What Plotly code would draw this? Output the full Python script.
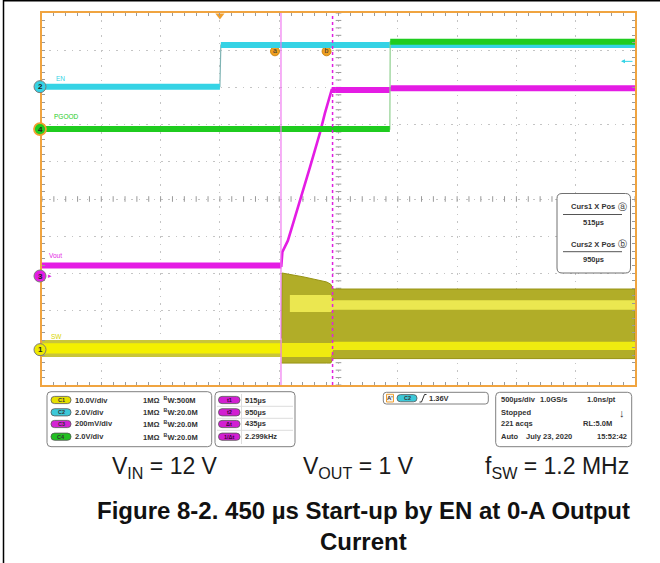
import numpy as np
import plotly.graph_objects as go

# ---------------- data ----------------
time_range_us = [-1500, 3500]          # 500 us/div, 10 divisions, trigger 3 div from left
div_range = [0, 10]

ch_names = ["SW", "EN", "Vout", "PGOOD"]
ch_numbers = ["1", "2", "3", "4"]
ch_scale = [10.0, 2.0, 0.2, 2.0]        # V/div
ch_offset = [0.95, 8.02, 2.93, 6.88]    # ground marker position (div from bottom)
ch_colors = ["#eeea00", "#35d3e5", "#e41ce4", "#1fcc1f"]

en_t = [-1500, 0, 8, 3500]
en_v = [0.0, 0.0, 2.24, 2.24]

pg_t = [-1500, 1433, 1436, 3500]
pg_v = [0.0, 0.0, 4.70, 4.70]

vout_t = [-1500, 518, 527, 573, 618, 675, 759, 843, 885, 942, 978, 1433, 1440, 3500]
vout_v = [0.056, 0.056, 0.13, 0.19, 0.284, 0.40, 0.584, 0.768, 0.874, 1.0, 1.0, 1.0, 1.01, 1.01]

# SW idle (before start-up): noise fringe and bright core
sw_idle_t = [-1500, 520]
sw_idle_fringe_top = [2.6, 2.6]
sw_idle_fringe_bot = [-2.0, -2.0]
sw_idle_core_top = [1.7, 1.7]
sw_idle_core_bot = [-1.0, -1.0]

# SW switching envelope after start-up
sw_env_t = [520, 524, 700, 900, 935, 955, 3500]
sw_env_top = [3.0, 20.6, 19.6, 18.2, 17.6, 16.3, 16.3]
sw_env_bot = [-3.6, -3.6, -3.6, -3.6, -3.6, -2.4, -2.4]

sw_low_t = [520, 935, 955, 3500]
sw_low_top = [1.8, 1.8, 2.1, 2.1]
sw_low_bot = [-2.0, -2.0, -0.1, -0.1]

sw_high_t = [590, 935, 955, 3500]
sw_high_top = [14.7, 14.7, 13.3, 13.3]
sw_high_bot = [10.1, 10.1, 10.7, 10.7]

cursor_us = [515, 950]
cursor_names = ["a", "b"]
trigger_level_v = 1.36

ch_info_scale = ["10.0V/div", "2.0V/div", "200mV/div", "2.0V/div"]
ch_info_bw = ["500M", "20.0M", "20.0M", "20.0M"]
meas_labels = ["t1", "t2", "Δt", "1/Δt"]
meas_values = ["515µs", "950µs", "435µs", "2.299kHz"]
caption_items = ["V<sub>IN</sub> = 12 V", "V<sub>OUT</sub> = 1 V", "f<sub>SW</sub> = 1.2 MHz"]
title_lines = ["Figure 8-2. 450 µs Start-up by EN at 0-A Output", "Current"]

# ---------------- layout helpers ----------------
FW, FH = 660, 563
L, R, T, B = 42, 635, 13, 385
W, H = R - L, B - T
US_PER_PX = (time_range_us[1] - time_range_us[0]) / W
DIV_PER_PX = (div_range[1] - div_range[0]) / H
FONT = "Liberation Sans"


def PX(x):
    return (x - L) / W


def PY(y):
    return (B - y) / H


shapes = []
annotations = []


def txt(x, y, s, size=7.5, color="#333333", bold=True, xanchor="left", family=FONT,
        yref="paper"):
    annotations.append(dict(
        x=PX(x), y=PY(y) if yref == "paper" else y, xref="paper", yref=yref,
        text=("<b>%s</b>" % s) if bold else s, showarrow=False,
        xanchor=xanchor, yanchor="middle", borderpad=0,
        font=dict(size=size, color=color, family=family)))


def rrect(x0, y0, x1, y1, r, line="#808080", fill="white", lw=1.0):
    X, Y = PX, PY
    p = (f"M {X(x0 + r)},{Y(y0)} L {X(x1 - r)},{Y(y0)} Q {X(x1)},{Y(y0)} {X(x1)},{Y(y0 + r)} "
         f"L {X(x1)},{Y(y1 - r)} Q {X(x1)},{Y(y1)} {X(x1 - r)},{Y(y1)} "
         f"L {X(x0 + r)},{Y(y1)} Q {X(x0)},{Y(y1)} {X(x0)},{Y(y1 - r)} "
         f"L {X(x0)},{Y(y0 + r)} Q {X(x0)},{Y(y0)} {X(x0 + r)},{Y(y0)} Z")
    shapes.append(dict(type="path", path=p, xref="paper", yref="paper",
                       line=dict(color=line, width=lw), fillcolor=fill, layer="above"))


def hline(x0, x1, y, color="#cccccc", lw=1):
    shapes.append(dict(type="line", xref="paper", yref="paper", x0=PX(x0), x1=PX(x1),
                       y0=PY(y), y1=PY(y), line=dict(color=color, width=lw), layer="above"))


def vline(x, y0, y1, color="#cccccc", lw=1):
    shapes.append(dict(type="line", xref="paper", yref="paper", x0=PX(x), x1=PX(x),
                       y0=PY(y0), y1=PY(y1), line=dict(color=color, width=lw), layer="above"))


def pill(x0, x1, yc, color, label, tcolor="#333333"):
    rrect(x0, yc - 3.6, x1, yc + 3.6, 3.5, line="#555555", fill=color, lw=0.8)
    txt((x0 + x1) / 2, yc, label, size=5.5, color=tcolor, xanchor="center")


def chan_axis(i):
    return "y%d" % (i + 2)


fig = go.Figure()


def band(t, top, bot, color, axis, lcolor=None, lw=0):
    fig.add_trace(go.Scatter(
        x=list(t) + list(t)[::-1], y=list(top) + list(bot)[::-1],
        fill="toself", fillcolor=color, mode="lines",
        line=dict(width=lw, color=lcolor or color), yaxis=axis,
        hoverinfo="skip", showlegend=False))


def step_trace(t, v, color, thin_color, axis, thick=6, thin=1.2):
    fig.add_trace(go.Scatter(x=t, y=v, mode="lines", line=dict(color=thin_color, width=thin),
                             yaxis=axis, hoverinfo="skip", showlegend=False))
    xs, ys = [], []
    for i in range(len(t) - 1):
        if v[i] == v[i + 1]:
            xs += [t[i], t[i + 1], None]
            ys += [v[i], v[i + 1], None]
    fig.add_trace(go.Scatter(x=xs, y=ys, mode="lines", line=dict(color=color, width=thick),
                             yaxis=axis, hoverinfo="skip", showlegend=False))


# ---------------- traces ----------------
sw_ax = chan_axis(0)
band(sw_idle_t, sw_idle_fringe_top, sw_idle_fringe_bot, "#c9c53a", sw_ax)
band(sw_idle_t, sw_idle_core_top, sw_idle_core_bot, "#f4f000", sw_ax)
band(sw_env_t, sw_env_top, sw_env_bot, "#b1ad28", sw_ax, lcolor="#979314", lw=1)
band(sw_low_t, sw_low_top, sw_low_bot, "#efeb10", sw_ax)
band(sw_high_t, sw_high_top, sw_high_bot, "#ebe750", sw_ax)

# graticule centre cross ticks
cx = np.arange(time_range_us[0], time_range_us[1] + 1, 100)
cy = np.arange(div_range[0], div_range[1] + 0.01, 0.2)
fig.add_trace(go.Scatter(x=cx, y=np.full(len(cx), 5.0), mode="markers",
                         marker=dict(symbol="line-ns-open", size=4, color="#9a9a9a",
                                     line=dict(color="#9a9a9a", width=1)),
                         hoverinfo="skip", showlegend=False))
fig.add_trace(go.Scatter(x=np.full(len(cy), 1000.0), y=cy, mode="markers",
                         marker=dict(symbol="line-ew-open", size=4, color="#9a9a9a",
                                     line=dict(color="#9a9a9a", width=1)),
                         hoverinfo="skip", showlegend=False))

step_trace(en_t, en_v, ch_colors[1], "#7fb4b4", chan_axis(1), thick=6)
step_trace(vout_t, vout_v, ch_colors[2], ch_colors[2], chan_axis(2), thick=6, thin=2.6)
step_trace(pg_t, pg_v, ch_colors[3], "#8fd08f", chan_axis(3), thick=6)

# ground markers: circles anchored at each channel's offset on the division axis
ring_colors = ["#7a7a7a", "#7a7a7a", "#7a7a7a", "#f0a030"]
for i in range(4):
    shapes.append(dict(type="circle", xref="paper", yref="y",
                       xsizemode="pixel", ysizemode="pixel",
                       xanchor=PX(40), yanchor=ch_offset[i],
                       x0=-6, x1=6, y0=-6, y1=6,
                       fillcolor=ch_colors[i],
                       line=dict(color=ring_colors[i], width=1.8 if i == 3 else 1),
                       layer="above"))
    txt(40, ch_offset[i], "<b>%s</b>" % ch_numbers[i], size=8, color="#222222",
        bold=False, xanchor="center", yref="y")

# trigger position marker
fig.add_trace(go.Scatter(x=[0], y=[div_range[1] - 2.6 * DIV_PER_PX], mode="markers",
                         marker=dict(symbol="triangle-down", size=8, color="#f0a030"),
                         cliponaxis=False, hoverinfo="skip", showlegend=False))

# cursor labels a / b
fig.add_trace(go.Scatter(
    x=[c - 6 * US_PER_PX for c in cursor_us], y=[8.97, 8.97], mode="markers+text",
    text=cursor_names, textposition="middle center",
    textfont=dict(size=7, color="#333333", family=FONT),
    marker=dict(size=9, color="#f0a020", line=dict(color="#c07800", width=0.8)),
    hoverinfo="skip", showlegend=False))

# cursor lines
shapes.append(dict(type="line", xref="x", yref="paper", x0=cursor_us[0], x1=cursor_us[0], y0=0, y1=1,
                   line=dict(color="#f07af0", width=1.2), layer="above"))
shapes.append(dict(type="line", xref="x", yref="paper", x0=cursor_us[1], x1=cursor_us[1], y0=0, y1=1,
                   line=dict(color="#e020e0", width=1.5, dash="dot"), layer="above"))

# trigger level arrow on EN axis
annotations.append(dict(x=PX(621), y=trigger_level_v, xref="paper", yref=chan_axis(1), text="",
                        showarrow=True, ax=13, ay=0, arrowhead=2, arrowsize=0.8, arrowwidth=1,
                        arrowcolor="#35d3e5"))

# channel names inside the graticule
txt(55, 79, "EN", size=6.5, color=ch_colors[1], bold=False)
txt(53, 117, "PGOOD", size=6.5, color=ch_colors[3], bold=False)
txt(48, 255, "Vout", size=6.5, color=ch_colors[2], bold=False)
txt(50, 336, "SW", size=6.5, color="#d8d400", bold=False)
txt(47, 275.5, "▸", size=7, color=ch_colors[2], bold=False)

# cursor readout box
rrect(557, 193.5, 630.5, 273, 5, line="#707070", fill="white", lw=1)
txt(616, 206.7, "Curs1 X Pos", xanchor="right")
txt(622, 206.7, "ⓐ", size=9, xanchor="center", bold=False)
hline(563, 622, 214.5, color="#555555")
txt(593, 222.7, "515µs", xanchor="center")
txt(616, 244, "Curs2 X Pos", xanchor="right")
txt(622, 244, "ⓑ", size=9, xanchor="center", bold=False)
hline(563, 622, 251.7, color="#555555")
txt(593, 259, "950µs", xanchor="center")

# ---------------- info panels below the graticule ----------------
rows_y = [400, 412.3, 424, 436.7]
pill_cols = ["#e6e000", "#3cc8d8", "#d424d4", "#22c022"]
rrect(47, 391.7, 211.7, 446.7, 4)
for i in range(4):
    pill(51, 71, rows_y[i], pill_cols[i], "C%s" % ch_numbers[i])
    txt(74, rows_y[i], ch_info_scale[i])
    txt(141.5, rows_y[i], "1MΩ  <sup>B</sup>W:" + ch_info_bw[i])

rrect(215, 391.7, 295, 446.7, 4)
for yy in [406.3, 418.3, 430.3]:
    hline(217, 293, yy, color="#dddddd")
vline(241.5, 394, 444, color="#dddddd")
for i in range(4):
    pill(218.5, 240, rows_y[i], "#d21fd2", meas_labels[i], tcolor="#3a003a")
    txt(243.5, rows_y[i], meas_values[i])

rrect(383.3, 392.3, 488.3, 404, 3)
shapes.append(dict(type="rect", xref="paper", yref="paper", x0=PX(386.5), x1=PX(393.5),
                   y0=PY(394.3), y1=PY(402), line=dict(color="#f0a030", width=1), fillcolor="#f4f4f4",
                   layer="above"))
txt(390, 398.2, "A'", size=6, xanchor="center")
pill(397, 417, 398.2, "#3cc8d8", "C2")
shapes.append(dict(type="path", xref="paper", yref="paper", layer="above",
                   path=f"M {PX(419.5)},{PY(402)} L {PX(421.5)},{PY(402)} L {PX(424.5)},{PY(394.5)} L {PX(426.5)},{PY(394.5)}",
                   line=dict(color="#333333", width=1)))
txt(428, 398.2, "1.36V")

rrect(495.7, 392.3, 631.7, 446.7, 4)
txt(500, 399, "500µs/div")
txt(538.5, 399, "1.0GS/s")
txt(617, 399, "1.0ns/pt", xanchor="right")
txt(500, 412.3, "Stopped")
txt(621.5, 412.8, "↓", size=11, xanchor="center")
txt(500, 424, "221 acqs")
txt(613, 424, "RL:5.0M", xanchor="right")
txt(500, 436.7, "Auto")
txt(525, 436.7, "July 23, 2020")
txt(628, 436.7, "15:52:42", xanchor="right")

# ---------------- caption & title ----------------
for xc, s in zip([165, 358, 557], caption_items):
    txt(xc, 467, s, size=23, color="#1a1a1a", bold=False, xanchor="center", family="Liberation Sans")
txt(363, 511, title_lines[0], size=24, color="#111111", bold=True, xanchor="center")
txt(363, 541, title_lines[1], size=24, color="#111111", bold=True, xanchor="center")

# outer black frame (top and left edges visible)
shapes.append(dict(type="line", xref="paper", yref="paper", x0=PX(3.5), x1=PX(3.5), y0=PY(0), y1=PY(FH),
                   line=dict(color="#000000", width=1.5), layer="above"))
shapes.append(dict(type="line", xref="paper", yref="paper", x0=PX(3.5), x1=PX(FW), y0=PY(0.8), y1=PY(0.8),
                   line=dict(color="#000000", width=1.5), layer="above"))

# ---------------- axes ----------------
axis_common = dict(showticklabels=False, zeroline=False, showline=True, linecolor="#f0a440",
                   linewidth=2, mirror="allticks", ticks="inside", ticklen=3, tickcolor="#9a9a9a",
                   showgrid=True, gridcolor="#c4c4c4", gridwidth=1, griddash="1.5px,5.94px")
layout_axes = dict(
    xaxis=dict(range=time_range_us, dtick=500, minor=dict(ticks="inside", dtick=100, ticklen=3,
                                                           tickcolor="#9a9a9a", showgrid=False),
               **axis_common),
    yaxis=dict(range=div_range, dtick=1, minor=dict(ticks="inside", dtick=0.2, ticklen=3,
                                                     tickcolor="#9a9a9a", showgrid=False),
               **axis_common),
)
for i in range(4):
    lo = -ch_offset[i] * ch_scale[i]
    hi = (div_range[1] - ch_offset[i]) * ch_scale[i]
    layout_axes["yaxis%d" % (i + 2)] = dict(range=[lo, hi], overlaying="y", visible=False)

fig.update_layout(
    width=FW, height=FH,
    margin=dict(l=L, r=FW - R, t=T, b=FH - B, pad=0),
    paper_bgcolor="white", plot_bgcolor="white",
    showlegend=False,
    shapes=shapes, annotations=annotations,
    **layout_axes,
)

fig.write_html("out.html", config={"displayModeBar": False},
               post_script="document.body.style.margin='0px';")
